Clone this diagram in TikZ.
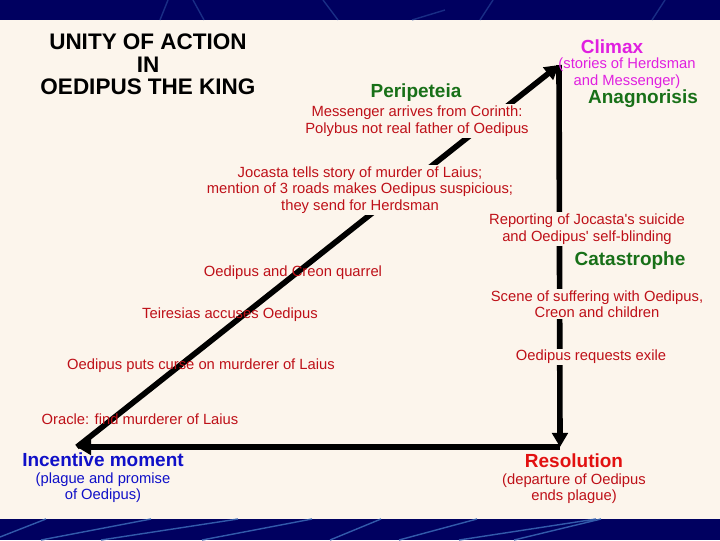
\documentclass[tikz,border=0pt]{standalone}
\usepackage{fontspec}
\setmainfont{Liberation Sans}
\usepackage{tikz}
\usetikzlibrary{arrows.meta, positioning}
\definecolor{paper}{RGB}{252,245,236}
\definecolor{navy}{RGB}{0,0,96}
\definecolor{streak}{RGB}{50,90,170}
\definecolor{plotred}{RGB}{190,16,24}
\definecolor{headgreen}{RGB}{24,112,24}
\definecolor{climaxpink}{RGB}{224,32,224}
\definecolor{incblue}{RGB}{16,16,200}
\definecolor{resred}{RGB}{226,16,16}
\tikzstyle{event} = [text=plotred, align=center, inner sep=1pt,
  font=\fontsize{10.5}{11.7}\selectfont]
\tikzstyle{masked} = [event, fill=paper]
\tikzstyle{head} = [inner sep=1pt, font=\fontsize{13.5}{14}\selectfont\bfseries]
\tikzstyle{arrow} = [line width=4pt, -{Triangle[length=10pt,width=11pt]}]
\tikzstyle{band} = [streak, line width=1pt]

\begin{document}
\begin{tikzpicture}[x=0.025cm, y=-0.025cm]
    \useasboundingbox (0,0) rectangle (720,540);
    % slide background
    \fill[paper] (0,0) rectangle (720,540);
    \fill[navy] (0,0) rectangle (720,20);
    \fill[navy] (0,519) rectangle (720,540);
    \draw[band, opacity=0.5] (160,20) -- (168,0) (193,0) -- (204,20) (323,0) -- (338,20)
      (412,20) -- (445,10) (480,20) -- (493,0) (652,20) -- (665,0);
    \draw[band] (0,537) -- (46,519) (41,540) -- (151,519) (101,540) -- (238,519)
      (202,540) -- (312,519) (330,540) -- (381,519) (399,540) -- (477,519)
      (459,540) -- (596,519) (514,540) -- (601,519);

    % the plot triangle
    \coordinate (inc) at (77,447);
    \coordinate (clim) at (559,65);
    \coordinate (res) at (560,447);
    \draw[arrow] (inc) -- (clim);
    \draw[arrow] (clim) -- (res);
    \draw[arrow] (res) -- (inc);

    \node[align=center, inner sep=0pt, font=\fontsize{16}{16}\selectfont\bfseries]
      (title) at (148,64.5) {UNITY OF ACTION\\IN\\OEDIPUS THE KING};

    % rising action
    \node[head, text=headgreen] (peri) at (416,93) {Peripeteia};
    \node[masked] (messenger) at (417,121) {Messenger arrives from Corinth:\\Polybus not real father of Oedipus};
    \node[masked] (jocasta) at (360,190) {Jocasta tells story of murder of Laius;\\mention of 3 roads makes Oedipus suspicious;\\they send for Herdsman};
    \node[event] (quarrel) at (293,273) {Oedipus and Creon quarrel};
    \node[event] (teiresias) at (230,315) {Teiresias accuses Oedipus};
    \node[event] (curse) at (201,366) {Oedipus puts curse on murderer of Laius};
    \node[event] (oracle) at (140,419) {Oracle: find murderer of Laius};

    % climax
    \node[head, text=climaxpink] (climax) at (612,47) {Climax};
    \node[event, text=climaxpink] (stories) at (627,73) {(stories of Herdsman\\and Messenger)};
    \node[head, text=headgreen] (anag) at (643,99) {Anagnorisis};

    % falling action
    \node[masked] (report) at (587,229) {Reporting of Jocasta\textquotesingle s suicide\\and Oedipus\textquotesingle\ self-blinding};
    \node[head, text=headgreen] (cata) at (630,261) {Catastrophe};
    \node[masked] (scene) at (597,304) {Scene of suffering with Oedipus,\\Creon and children};
    \node[masked] (exile) at (591,357) {Oedipus requests exile};

    % ends
    \node[head, text=incblue] (incentive) at (103,460) {Incentive moment};
    \node[event, text=incblue, below=0.05cm of incentive] (plague) {(plague and promise\\of Oedipus)};
    \node[head, text=resred] (resolution) at (574,461) {Resolution};
    \node[event, text=plotred, below=0.05cm of resolution] (departure) {(departure of Oedipus\\ends plague)};
\end{tikzpicture}
\end{document}
